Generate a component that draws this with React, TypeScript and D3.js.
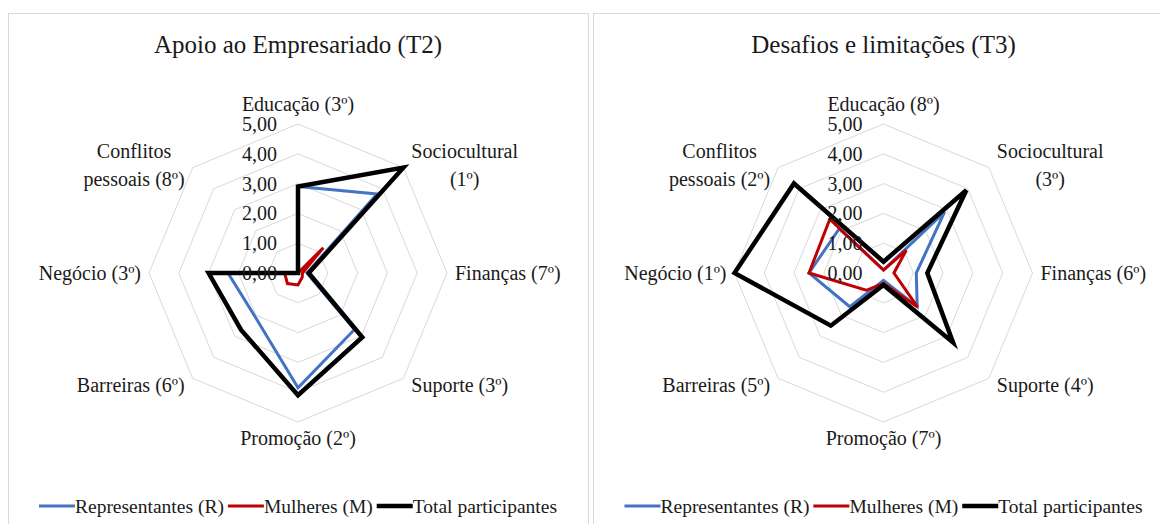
import React from 'react'
import * as d3 from 'd3'

// categorias dos eixos (sentido horário a partir do topo)
const categories = ['Educação', 'Sociocultural', 'Finanças', 'Suporte', 'Promoção', 'Barreiras', 'Negócio', 'Conflitos pessoais']

// posição (ranking) mostrada entre parênteses
const ranksT2 = [3, 1, 7, 3, 2, 6, 3, 8]
const ranksT3 = [8, 3, 6, 4, 7, 5, 1, 2]

// T2 - Apoio ao Empresariado
const t2Representantes = [2.9, 3.75, 0.3, 2.68, 3.85, 2.05, 2.35, 0]
const t2Mulheres = [0, 1.2, 0.15, 0.2, 0.4, 0.5, 0.45, 0]
const t2Total = [2.9, 5.0, 0.36, 3.05, 4.1, 2.7, 3.0, 0]

// T3 - Desafios e limitações
const t3Representantes = [0.1, 2.9, 1.1, 1.6, 0.25, 1.6, 2.5, 2.1]
const t3Mulheres = [0.1, 1.08, 0.35, 1.62, 0.35, 0.82, 2.5, 2.55]
const t3Total = [0.38, 3.93, 1.47, 3.3, 0.4, 2.5, 5.0, 4.25]

const tickValues = [0, 1, 2, 3, 4, 5]

const seriesNames = ['Representantes (R)', 'Mulheres (M)', 'Total participantes']
const seriesColors = ['#4472C4', '#C00000', '#000000']
const seriesWidths = [3, 3, 4.5]

const FONT = 'Liberation Serif'
const W = 1160
const H = 524
const R_MAX = 149

const r = d3.scaleLinear().domain([0, 5]).range([0, R_MAX])
const angle = (i: number) => (i * 2 * Math.PI) / categories.length
const fmt = (v: number) => d3.format('.2f')(v).replace('.', ',')

let ctx: CanvasRenderingContext2D | null = null
const measure = (text: string, size: number) => {
  if (!ctx) ctx = document.createElement('canvas').getContext('2d')
  if (!ctx) return text.length * size * 0.45
  ctx.font = `${size}px "${FONT}"`
  return ctx.measureText(text).width
}

// quebra rótulos longos em duas linhas como o Excel
const wrap = (label: string) => {
  if (label.length <= 15) return [label]
  const words = label.split(' ')
  const lines: string[] = []
  let cur = ''
  words.forEach((w) => {
    const next = cur ? cur + ' ' + w : w
    if (next.length > 13 && cur) {
      lines.push(cur)
      cur = w
    } else cur = next
  })
  lines.push(cur)
  return lines
}

const ring = d3
  .lineRadial<number>()
  .angle((d, i) => angle(i))
  .radius((d) => r(d))
  .curve(d3.curveLinearClosed)

type Props = {
  cx: number
  cy: number
  title: string
  ranks: number[]
  series: number[][]
}

const Radar = ({ cx, cy, title, ranks, series }: Props) => {
  const fs = 20
  const lh = 28
  const legendFs = 19.5
  const lineLen = 36
  const widths = seriesNames.map((n) => measure(n, legendFs))
  const legendW = widths.reduce((a, b) => a + b, 0) + lineLen * 3 + 8
  let lx = cx - legendW / 2

  return (
    <g>
      <text x={cx} y={53} textAnchor="middle" fontSize={25} fontFamily={FONT} fill="#1a1a1a">
        {title}
      </text>
      <g transform={`translate(${cx},${cy})`}>
        {tickValues.slice(1).map((t) => (
          <path key={t} d={ring(categories.map(() => t)) || ''} fill="none" stroke="#d9d9d9" strokeWidth={1} />
        ))}
        {series.map((vals, s) => (
          <path
            key={s}
            d={ring(vals) || ''}
            fill="none"
            stroke={seriesColors[s]}
            strokeWidth={seriesWidths[s]}
            strokeLinejoin="miter"
          />
        ))}
        {tickValues.map((t) => (
          <text
            key={t}
            x={-21}
            y={-r(t)}
            textAnchor="end"
            dominantBaseline="central"
            fontSize={fs}
            fontFamily={FONT}
            fill="#1a1a1a"
          >
            {fmt(t)}
          </text>
        ))}
        {categories.map((c, i) => {
          const a = angle(i)
          const sx = Math.sin(a)
          const sy = -Math.cos(a)
          const px = sx * R_MAX
          const py = sy * R_MAX
          const lines = wrap(`${c} (${ranks[i]}º)`)
          const side = Math.abs(sx) < 0.1 ? 0 : Math.sign(sx)
          let x = px + side * 8
          let y = py
          if (side === 0) y = sy < 0 ? py - 20 : py + 16
          else if (Math.abs(sy) > 0.1) y = sy > 0 ? py + 7 : py - 3
          let anchor = side === 0 ? 'middle' : side > 0 ? 'start' : 'end'
          if (lines.length > 1) {
            const w = Math.max(...lines.map((l) => measure(l, fs)))
            x = x + (side * w) / 2
            anchor = 'middle'
          }
          const y0 = y - ((lines.length - 1) * lh) / 2
          return (
            <text
              key={c}
              textAnchor={anchor}
              dominantBaseline="central"
              fontSize={fs}
              fontFamily={FONT}
              fill="#1a1a1a"
            >
              {lines.map((l, k) => (
                <tspan key={k} x={x} y={y0 + k * lh}>
                  {l}
                </tspan>
              ))}
            </text>
          )
        })}
      </g>
      <g>
        {seriesNames.map((n, s) => {
          const x0 = lx
          lx += lineLen + widths[s] + 4
          return (
            <g key={n}>
              <line x1={x0} x2={x0 + lineLen} y1={506} y2={506} stroke={seriesColors[s]} strokeWidth={seriesWidths[s]} />
              <text
                x={x0 + lineLen}
                y={506}
                dominantBaseline="central"
                fontSize={legendFs}
                fontFamily={FONT}
                fill="#1a1a1a"
              >
                {n}
              </text>
            </g>
          )
        })}
      </g>
    </g>
  )
}

export default function App() {
  return (
    <svg width={W} height={H} style={{ position: 'absolute', left: 0, top: 0, background: '#fff' }}>
      <rect x={8.5} y={13.5} width={580} height={530} fill="#fff" stroke="#d9d9d9" />
      <rect x={593.5} y={13.5} width={580} height={530} fill="#fff" stroke="#d9d9d9" />
      <Radar
        cx={298}
        cy={273}
        title="Apoio ao Empresariado (T2)"
        ranks={ranksT2}
        series={[t2Representantes, t2Mulheres, t2Total]}
      />
      <Radar
        cx={883.5}
        cy={273}
        title="Desafios e limitações (T3)"
        ranks={ranksT3}
        series={[t3Representantes, t3Mulheres, t3Total]}
      />
    </svg>
  )
}
